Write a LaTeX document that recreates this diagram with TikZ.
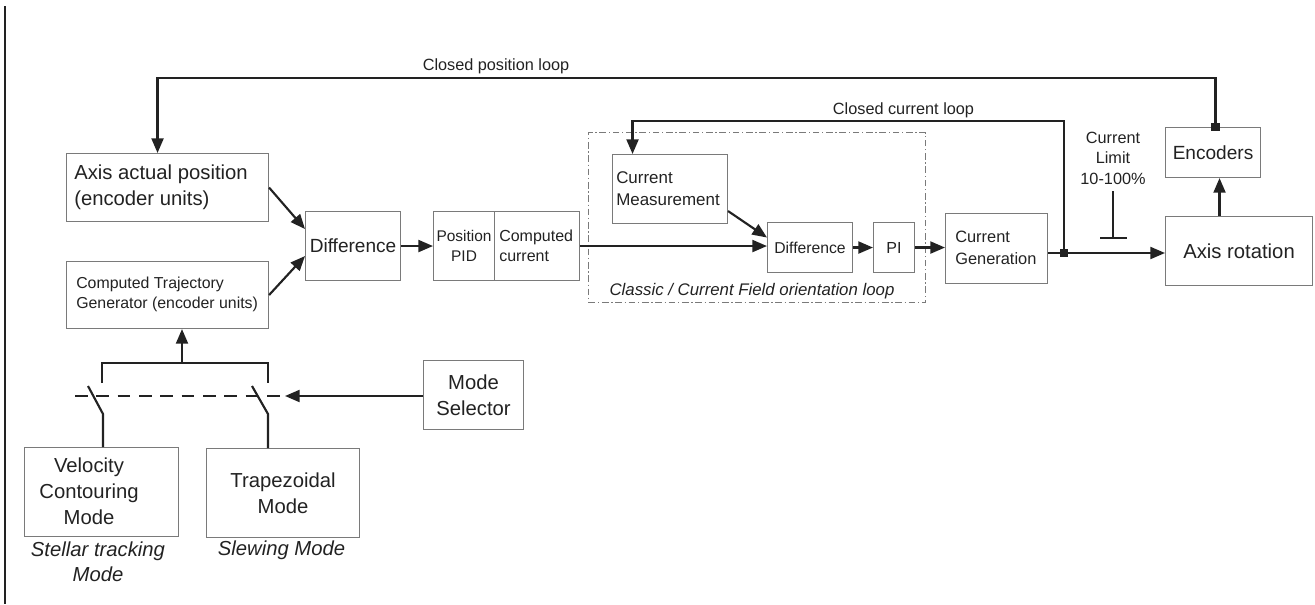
\documentclass[tikz,border=0pt]{standalone}
\usepackage{fontspec}
\setmainfont{Liberation Sans}
\usetikzlibrary{arrows.meta,calc}

\definecolor{ink}{HTML}{222222}
\definecolor{frame}{HTML}{7A7A7A}

% type sizes used in the drawing
\newcommand\txBig{\fontsize{15.2pt}{19.5pt}\selectfont}
\newcommand\txBigIt{\fontsize{15.2pt}{18.8pt}\selectfont\itshape}
\newcommand\txDiff{\fontsize{14.3pt}{17pt}\selectfont}
\newcommand\txEnc{\fontsize{14.3pt}{17pt}\selectfont}
\newcommand\txPid{\fontsize{11.6pt}{15pt}\selectfont}
\newcommand\txMed{\fontsize{12pt}{15pt}\selectfont}
\newcommand\txCm{\fontsize{12.7pt}{16.3pt}\selectfont}
\newcommand\txCg{\fontsize{12.3pt}{16.3pt}\selectfont}
\newcommand\txTraj{\fontsize{11.9pt}{14.5pt}\selectfont}
\newcommand\txSmall{\fontsize{11.8pt}{15pt}\selectfont}
\newcommand\txLoop{\fontsize{12.2pt}{15.4pt}\selectfont}
\newcommand\txMedIt{\fontsize{12.6pt}{15pt}\selectfont\itshape}

\begin{document}
\begin{tikzpicture}[x=0.75pt,y=-0.75pt,
  box/.style={draw=frame,line width=0.8pt,inner sep=0pt,anchor=north west,text=ink},
  sz/.style 2 args={minimum width=#1*0.75pt,minimum height=#2*0.75pt},
  loopframe/.style={draw=frame,line width=0.8pt,inner sep=0pt,anchor=north west,
    dash pattern=on 5pt off 2pt on 1pt off 2pt},
  lbl/.style={inner sep=0pt,text=ink},
  wire/.style={draw=ink,line width=1.6pt},
  flow/.style={wire,-{Triangle[length=11pt,width=9pt]}},
  linkage/.style={draw=ink,line width=2pt,dash pattern=on 9.5pt off 6.5pt},
  dot/.style={fill=ink,minimum size=6.5pt,inner sep=0pt}
]
\useasboundingbox (0,0) rectangle (1315,604);

% page margin rule
\draw[draw=ink,line width=0.9pt] (5,6) -- (5,604);

% blocks
\node[box,sz={202}{68}] (aap) at (66,153) {};
\node[box,sz={202}{67}] (ctg) at (66,261) {};
\node[box,sz={95}{69},font=\txDiff] (d1) at (305,211) {Difference};
\node[box,sz={61}{69},align=center,font=\txPid] (pp) at (433,211) {Position\\PID};
\node[box,sz={85}{69}] (cc) at (494,211) {};
\node[loopframe,sz={337}{170}] (foc) at (588,132) {};
\node[box,sz={115}{69}] (cm) at (612,154) {};
\node[box,sz={85}{50},font=\txSmall] (d2) at (767,222) {Difference};
\node[box,sz={41}{50},font=\txMed] (pi) at (873,222) {PI};
\node[box,sz={102}{70}] (cg) at (945,213) {};
\node[box,sz={95}{50},font=\txEnc] (enc) at (1165,127) {Encoders};
\node[box,sz={147}{69},font=\txBig] (ar) at (1165,216) {Axis rotation};
\node[box,sz={100}{69},font=\txBig,align=center] (ms) at (423,360) {Mode\\Selector};
\node[box,sz={154}{89}] (vcm) at (24,447) {};
\node[box,sz={153}{89},font=\txBig,align=center] (tzm) at (206,448) {Trapezoidal\\Mode};

% block texts set flush left
\node[lbl,font=\txBig,anchor=west,align=left] (aapt) at (74,187) {Axis actual position\\(encoder units)};
\node[lbl,font=\txTraj,anchor=west,align=left] (ctgt) at (76,294.5) {Computed Trajectory\\Generator (encoder units)};
\node[lbl,font=\txMed,anchor=west,align=left] (cct) at (499,245.5) {Computed\\current};
\node[lbl,font=\txCm,anchor=west,align=left] (cmt) at (616,188.5) {Current\\Measurement};
\node[lbl,font=\txCg,anchor=west,align=left] (cgt) at (955,248) {Current\\Generation};
\node[lbl,font=\txBig,align=center] (vcmt) at (89,491.5) {Velocity\\Contouring\\Mode};

% captions
\node[lbl,font=\txBigIt,align=center] (stl) at (98,562) {Stellar tracking\\Mode};
\node[lbl,font=\txBigIt] (slw) at (281.5,550) {Slewing Mode};
\node[lbl,font=\txMedIt] (focl) at (752,291) {Classic / Current Field orientation loop};
\node[lbl,font=\txLoop] (plt) at (496,66) {Closed position loop};
\node[lbl,font=\txLoop] (clt) at (903.5,110) {Closed current loop};
\node[lbl,font=\txLoop,align=center] (cl) at (1113,158) {Current\\Limit\\10-100\%};

% forward path
\draw[flow] (aap.east) -- ($(d1.west)+(0,-17)$);
\draw[flow] (ctg.east) -- ($(d1.west)+(0,10)$);
\draw[flow] (d1.east) -- (pp.west);
\draw[flow] (cc.east) -- (cc.east -| d2.west);
\draw[flow] ($(cm.south east)+(0,-13)$) -- ($(d2.west)+(0,-10)$);
\draw[flow] (d2.east) -- (pi.west);
\draw[flow] (pi.east) -- (pi.east -| cg.west);
\coordinate (j) at (1064,253);
\draw[flow] (cg.east |- j) -- (ar.west |- j);
\draw[flow] ($(ar.north)+(-19.5,0)$) -- ($(enc.south)+(6.5,0)$);

% current limit symbol
\coordinate (limtop) at (1113,191);
\coordinate (limbot) at (1113,238);
\draw[wire,line width=1.4pt] (limtop) -- (limbot);
\draw[wire,line width=1.4pt] ($(limbot)+(-13,0)$) -- ($(limbot)+(14,0)$);

% feedback loops
\coordinate (et) at ($(enc.north)+(2.5,0)$);
\draw[flow] (et) -- ++(0,-49) -| ($(aap.north)+(-10,0)$);
\draw[flow] (j) -- ++(0,-132) -| ($(cm.north)+(-37.5,0)$);
\node[dot] (jd) at (j) {};
\node[dot] (ed) at (et) {};

% mode switches
\coordinate (tip) at (285,396);
\coordinate (lk) at (75,396);
\coordinate (mid) at (182,363);
\coordinate (s1a) at (102,363);
\coordinate (s1b) at (102,383);
\coordinate (s1c) at (88,386);
\coordinate (s1d) at (103,414);
\coordinate (s2a) at (268,363);
\coordinate (s2b) at (268,383);
\coordinate (s2c) at (252,386);
\coordinate (s2d) at (268,414);
\draw[linkage] (lk) -- (tip);
\draw[flow] (ms.west |- tip) -- (tip);
\draw[wire] (s1b) -- (s1a) -- (s2a) -- (s2b);
\draw[flow] (mid) -- (mid |- ctg.south);
\draw[wire] (s1c) -- (s1d) -- (s1d |- vcm.north);
\draw[wire] (s2c) -- (s2d) -- (s2d |- tzm.north);
\end{tikzpicture}
\end{document}
